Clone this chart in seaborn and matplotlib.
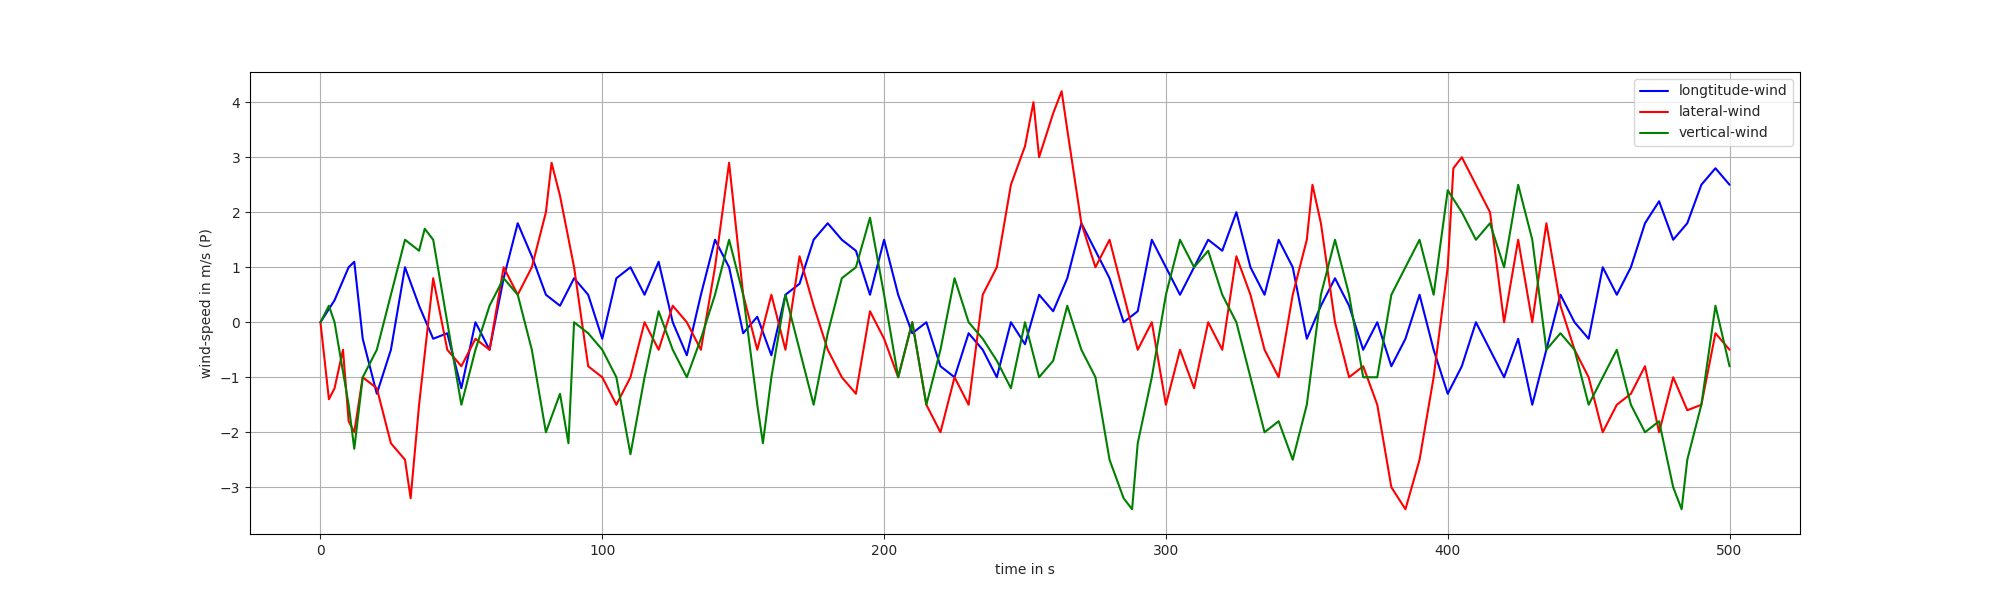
import numpy as np
import pandas as pd
import matplotlib
matplotlib.use("Agg")
import matplotlib.pyplot as plt
import seaborn as sns

# values (time in s, wind speed in m/s)
t_lon = [0, 5, 10, 12, 15, 20, 25, 30, 35, 40, 45, 50, 55, 60, 65, 70, 75, 80, 85, 90, 95, 100,
         105, 110, 115, 120, 125, 130, 135, 140, 145, 150, 155, 160, 165, 170, 175, 180, 185, 190,
         195, 200, 205, 210, 215, 220, 225, 230, 235, 240, 245, 250, 255, 260, 265, 270, 275, 280,
         285, 290, 295, 300, 305, 310, 315, 320, 325, 330, 335, 340, 345, 350, 355, 360, 365, 370,
         375, 380, 385, 390, 395, 400, 405, 410, 415, 420, 425, 430, 435, 440, 445, 450, 455, 460,
         465, 470, 475, 480, 485, 490, 495, 500]
v_lon = [0, 0.4, 1.0, 1.1, -0.3, -1.3, -0.5, 1.0, 0.3, -0.3, -0.2, -1.2, 0.0, -0.5, 0.8, 1.8,
         1.2, 0.5, 0.3, 0.8, 0.5, -0.3, 0.8, 1.0, 0.5, 1.1, 0.0, -0.6, 0.5, 1.5, 1.0, -0.2, 0.1,
         -0.6, 0.5, 0.7, 1.5, 1.8, 1.5, 1.3, 0.5, 1.5, 0.5, -0.2, 0.0, -0.8, -1.0, -0.2, -0.5,
         -1.0, 0.0, -0.4, 0.5, 0.2, 0.8, 1.8, 1.3, 0.8, 0.0, 0.2, 1.5, 1.0, 0.5, 1.0, 1.5, 1.3,
         2.0, 1.0, 0.5, 1.5, 1.0, -0.3, 0.3, 0.8, 0.3, -0.5, 0.0, -0.8, -0.3, 0.5, -0.5, -1.3,
         -0.8, 0.0, -0.5, -1.0, -0.3, -1.5, -0.5, 0.5, 0.0, -0.3, 1.0, 0.5, 1.0, 1.8, 2.2, 1.5,
         1.8, 2.5, 2.8, 2.5]

t_lat = [0, 3, 5, 8, 10, 12, 15, 20, 25, 30, 32, 35, 40, 45, 50, 55, 60, 65, 70, 75, 80, 82, 85,
         90, 95, 100, 105, 110, 115, 120, 125, 130, 135, 140, 145, 150, 155, 160, 165, 170, 175,
         180, 185, 190, 195, 200, 205, 210, 215, 220, 225, 230, 235, 240, 245, 250, 253, 255, 260,
         263, 265, 270, 275, 280, 285, 290, 295, 300, 305, 310, 315, 320, 325, 330, 335, 340, 345,
         350, 352, 355, 360, 365, 370, 375, 380, 385, 390, 395, 400, 402, 405, 410, 415, 420, 425,
         430, 435, 440, 445, 450, 455, 460, 465, 470, 475, 480, 485, 490, 495, 500]
v_lat = [0, -1.4, -1.2, -0.5, -1.8, -2.0, -1.0, -1.2, -2.2, -2.5, -3.2, -1.5, 0.8, -0.5, -0.8,
         -0.3, -0.5, 1.0, 0.5, 1.0, 2.0, 2.9, 2.3, 1.0, -0.8, -1.0, -1.5, -1.0, 0.0, -0.5, 0.3,
         0.0, -0.5, 1.0, 2.9, 0.5, -0.5, 0.5, -0.5, 1.2, 0.3, -0.5, -1.0, -1.3, 0.2, -0.3, -1.0,
         0.0, -1.5, -2.0, -1.0, -1.5, 0.5, 1.0, 2.5, 3.2, 4.0, 3.0, 3.8, 4.2, 3.5, 1.8, 1.0, 1.5,
         0.5, -0.5, 0.0, -1.5, -0.5, -1.2, 0.0, -0.5, 1.2, 0.5, -0.5, -1.0, 0.5, 1.5, 2.5, 1.8,
         0.0, -1.0, -0.8, -1.5, -3.0, -3.4, -2.5, -1.0, 1.0, 2.8, 3.0, 2.5, 2.0, 0.0, 1.5, 0.0,
         1.8, 0.3, -0.5, -1.0, -2.0, -1.5, -1.3, -0.8, -2.0, -1.0, -1.6, -1.5, -0.2, -0.5]

t_ver = [0, 3, 5, 10, 12, 15, 20, 25, 30, 35, 37, 40, 45, 50, 55, 60, 65, 70, 75, 80, 85, 88, 90,
         95, 100, 105, 110, 115, 120, 125, 130, 135, 140, 145, 150, 155, 157, 160, 165, 170, 175,
         180, 185, 190, 195, 200, 205, 210, 215, 220, 225, 230, 235, 240, 245, 250, 255, 260, 265,
         270, 275, 280, 285, 288, 290, 295, 300, 305, 310, 315, 320, 325, 330, 335, 340, 345, 350,
         355, 360, 365, 370, 375, 380, 385, 390, 395, 400, 405, 410, 415, 420, 425, 430, 435, 440,
         445, 450, 455, 460, 465, 470, 475, 480, 483, 485, 490, 495, 500]
v_ver = [0, 0.3, 0, -1.5, -2.3, -1.0, -0.5, 0.5, 1.5, 1.3, 1.7, 1.5, 0.0, -1.5, -0.5, 0.3, 0.8,
         0.5, -0.5, -2.0, -1.3, -2.2, 0.0, -0.2, -0.5, -1.0, -2.4, -1.0, 0.2, -0.5, -1.0, -0.3,
         0.5, 1.5, 0.5, -1.5, -2.2, -1.0, 0.5, -0.5, -1.5, -0.2, 0.8, 1.0, 1.9, 0.5, -1.0, 0.0,
         -1.5, -0.5, 0.8, 0.0, -0.3, -0.7, -1.2, 0.0, -1.0, -0.7, 0.3, -0.5, -1.0, -2.5, -3.2,
         -3.4, -2.2, -1.0, 0.5, 1.5, 1.0, 1.3, 0.5, 0.0, -1.0, -2.0, -1.8, -2.5, -1.5, 0.5, 1.5,
         0.5, -1.0, -1.0, 0.5, 1.0, 1.5, 0.5, 2.4, 2.0, 1.5, 1.8, 1.0, 2.5, 1.5, -0.5, -0.2, -0.5,
         -1.5, -1.0, -0.5, -1.5, -2.0, -1.8, -3.0, -3.4, -2.5, -1.5, 0.3, -0.8]

sns.set_style("white")

fig, ax = plt.subplots(figsize=(20, 6), dpi=100)

sns.lineplot(x=t_lon, y=v_lon, ax=ax, color="blue", label="longtitude-wind", linewidth=1.5)
sns.lineplot(x=t_lat, y=v_lat, ax=ax, color="red", label="lateral-wind", linewidth=1.5)
sns.lineplot(x=t_ver, y=v_ver, ax=ax, color="green", label="vertical-wind", linewidth=1.5)

ax.set_xlim(-25, 525)
ax.set_ylim(-3.85, 4.55)
ax.set_xticks([0, 100, 200, 300, 400, 500])
ax.set_yticks([-3, -2, -1, 0, 1, 2, 3, 4])
ax.grid(True, color="#b0b0b0", linewidth=0.8)
ax.tick_params(axis="both", direction="out", length=3.5, labelsize=10, left=True, bottom=True)
for s in ax.spines.values():
    s.set_color("black")
ax.set_xlabel("time in s")
ax.set_ylabel("wind-speed in m/s (P)")
ax.legend(loc="upper right")

fig.savefig("out.png")
